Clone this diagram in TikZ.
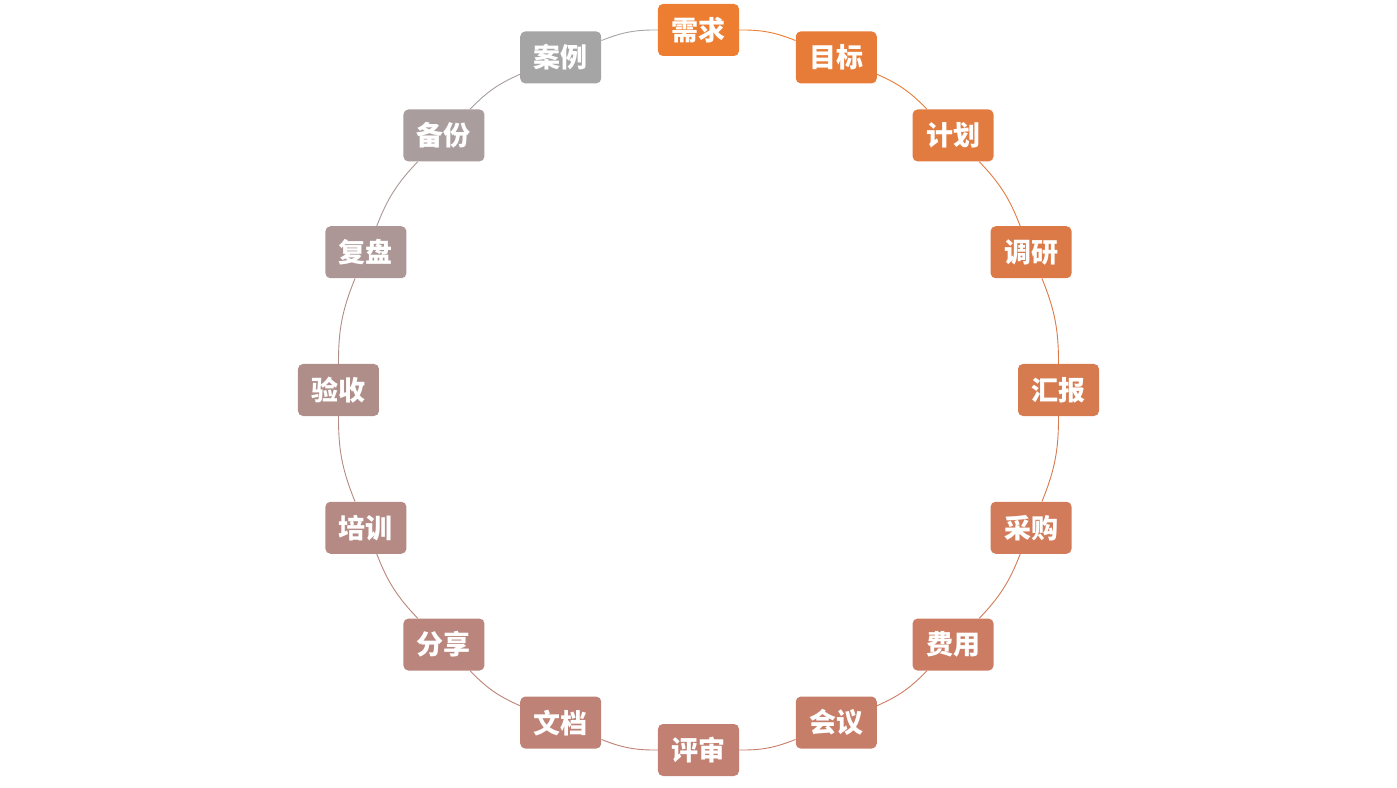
\documentclass[tikz,border=0pt]{standalone}
\usepackage{fontspec}
\newfontfamily\cjk{Noto Sans CJK SC}
\definecolor{c0}{HTML}{ED7D31}
\definecolor{c1}{HTML}{E77C38}
\definecolor{c2}{HTML}{E27B40}
\definecolor{c3}{HTML}{DC7A47}
\definecolor{c4}{HTML}{D67A50}
\definecolor{c5}{HTML}{D27B5A}
\definecolor{c6}{HTML}{CC7C62}
\definecolor{c7}{HTML}{C77E69}
\definecolor{c8}{HTML}{C18072}
\definecolor{c9}{HTML}{BE8276}
\definecolor{c10}{HTML}{B9857C}
\definecolor{c11}{HTML}{B58A84}
\definecolor{c12}{HTML}{AF8E8A}
\definecolor{c13}{HTML}{AD9696}
\definecolor{c14}{HTML}{A99D9D}
\definecolor{c15}{HTML}{A5A5A5}
\tikzset{
  box/.style={rounded corners=5pt, minimum width=81pt, minimum height=52pt, inner sep=0pt,
    text=white, font=\cjk\bfseries\fontsize{27}{27}\selectfont},
  link/.style={line width=0.9pt}
}
\begin{document}
\begin{tikzpicture}[x=1pt,y=1pt]
\useasboundingbox (-698.5,-397) rectangle (698.5,390);
\foreach \i/\t in {0/需求,1/目标,2/计划,3/调研,4/汇报,5/采购,6/费用,7/会议,8/评审,9/文档,10/分享,11/培训,12/验收,13/复盘,14/备份,15/案例}{
  \node[box, fill=c\i] (n\i) at ({90-22.5*\i}:360) {\t};
}
\begin{scope}[on background layer/.style={}]
\foreach \i in {0,...,15}{
  \pgfmathtruncatemacro\j{mod(\i+1,16)}
  \draw[link, draw=c\i] (n\i) to[bend left=11.25] (n\j);
}
\end{scope}
\end{tikzpicture}
\end{document}
